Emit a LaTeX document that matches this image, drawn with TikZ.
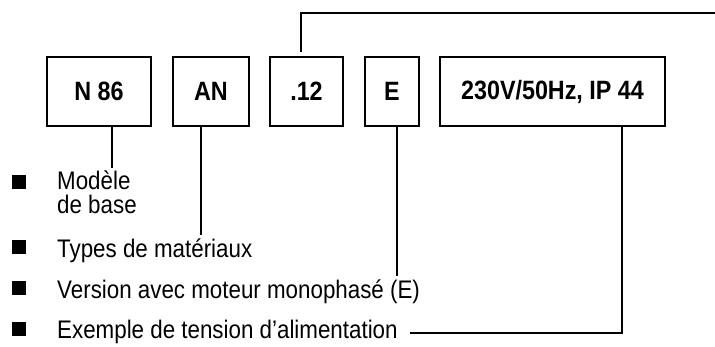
\documentclass[tikz,border=0pt]{standalone}
\usepackage{fontspec}
\setmainfont[FakeStretch=0.88]{Liberation Sans}
\begin{document}
\begin{tikzpicture}[x=1pt,y=-1pt,
  box/.style={draw, line width=1.6pt, minimum height=69pt, inner sep=0pt, font=\fontsize{26.5}{30}\selectfont\bfseries},
  lbl/.style={anchor=base west, inner sep=0pt, font=\fontsize{25.4}{30}\selectfont},
  bullet/.style={fill=black, minimum size=14pt, inner sep=0pt},
  conn/.style={line width=1.3pt}]
\useasboundingbox (0,0) rectangle (715,347);
\node[box, minimum width=104pt] (n86) at (99,91.5) {N 86};
\node[box, minimum width=76pt] (an) at (211,91.5) {AN};
\node[box, minimum width=73pt] (n12) at (306.5,91.5) {.12};
\node[box, minimum width=54pt] (e) at (392,91.5) {E};
\node[box, minimum width=225pt] (v) at (552.5,91.5) {230V/50Hz, IP 44};

\node[bullet] (b1) at (19,182) {};
\node[bullet] (b2) at (19,247) {};
\node[bullet] (b3) at (19,288) {};
\node[bullet] (b4) at (19,329) {};

\node[lbl] (t1) at (57,190) {Modèle};
\node[lbl] (t1b) at (57,214) {de base};
\node[lbl] (t2) at (57,257.5) {Types de matériaux};
\node[lbl] (t3) at (57,298.5) {Version avec moteur monophasé (E)};
\node[lbl] (t4) at (57,338.5) {Exemple de tension d’alimentation};

\coordinate (c1) at (112,168);
\coordinate (c2) at (201,235);
\coordinate (c3) at (397,276);
\coordinate (c4) at (622,333);
\coordinate (c5) at (410,333);
\coordinate (u0) at (301,52);
\coordinate (u1) at (301,13);
\coordinate (u2) at (715,13);

\draw[conn] (n86.south -| c1) -- (c1);
\draw[conn] (an.south -| c2) -- (c2);
\draw[conn] (e.south -| c3) -- (c3);
\draw[conn] (v.south -| c4) -- (c4) -- (c5);
\draw[conn] (u0) -- (u1) -- (u2);
\end{tikzpicture}
\end{document}
